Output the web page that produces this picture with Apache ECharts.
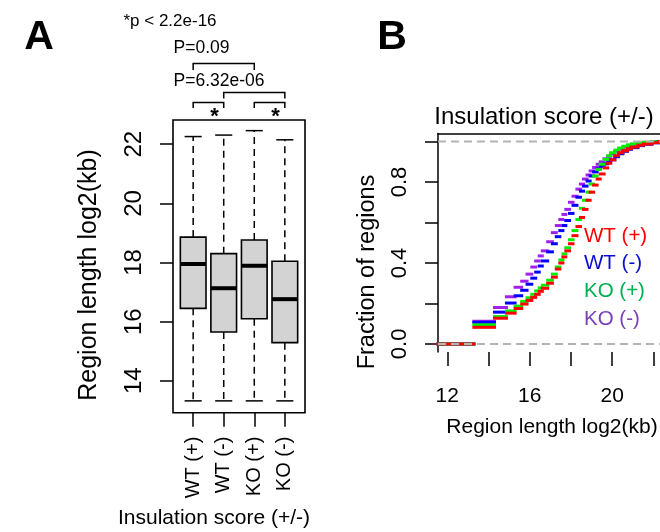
<!DOCTYPE html>
<html><head><meta charset="utf-8">
<script src="https://cdn.jsdelivr.net/npm/echarts@6/dist/echarts.min.js"></script>
<style>html,body{margin:0;padding:0;background:#fff}#c{width:660px;height:532px}</style>
</head><body><div id="c"></div>
<script>
const FONT = "'Liberation Sans', Arial, Helvetica, sans-serif";

// ---- Panel A: boxplot data (log2 kb) ----
const categories = ['WT (+)', 'WT (-)', 'KO (+)', 'KO (-)'];
const whiskerLow  = [13.32, 13.32, 13.32, 13.32];
const q1          = [16.45, 15.65, 16.10, 15.29];
const median      = [17.95, 17.13, 17.89, 16.76];
const q3          = [18.86, 18.30, 18.76, 18.04];
const whiskerHigh = [22.26, 22.31, 22.46, 22.15];
const yTicksA = [14, 16, 18, 20, 22];

// ---- Panel B: ECDF steps ----
const stepX = [13.29, 14.29, 14.87, 15.29, 15.61, 15.87, 16.10, 16.29, 16.46, 16.61,
  16.87, 17.10, 17.29, 17.46, 17.61, 17.75, 17.93, 18.10, 18.29, 18.46,
  18.61, 18.78, 18.93, 19.10, 19.27, 19.42, 19.61, 19.78, 19.93, 20.13,
  20.31, 20.52, 20.74, 20.93, 21.25, 21.52, 21.93, 22.25];
const ecdfWTplus = [0.082, 0.127, 0.152, 0.175, 0.197, 0.215, 0.230, 0.245, 0.260, 0.275,
  0.300, 0.330, 0.370, 0.400, 0.430, 0.460, 0.495, 0.535, 0.580, 0.625,
  0.665, 0.710, 0.750, 0.785, 0.815, 0.840, 0.870, 0.893, 0.910, 0.930,
  0.945, 0.955, 0.965, 0.973, 0.982, 0.988, 0.995, 1.000];
const ecdfWTminus = [0.107, 0.157, 0.202, 0.238, 0.265, 0.295, 0.325, 0.355, 0.385, 0.410,
  0.455, 0.495, 0.530, 0.560, 0.585, 0.610, 0.645, 0.685, 0.725, 0.755,
  0.780, 0.805, 0.830, 0.850, 0.865, 0.878, 0.890, 0.900, 0.910, 0.925,
  0.940, 0.952, 0.962, 0.970, 0.980, 0.987, 0.994, 1.000];
const ecdfKOplus = [0.094, 0.135, 0.163, 0.187, 0.210, 0.228, 0.245, 0.262, 0.277, 0.290,
  0.315, 0.345, 0.380, 0.415, 0.445, 0.475, 0.515, 0.560, 0.615, 0.670,
  0.710, 0.750, 0.790, 0.830, 0.862, 0.888, 0.912, 0.930, 0.945, 0.958,
  0.968, 0.977, 0.984, 0.989, 0.994, 0.997, 0.999, 1.000];
const ecdfKOminus = [0.112, 0.180, 0.233, 0.280, 0.310, 0.345, 0.380, 0.410, 0.435, 0.460,
  0.505, 0.550, 0.585, 0.615, 0.640, 0.665, 0.700, 0.730, 0.765, 0.790,
  0.815, 0.835, 0.855, 0.872, 0.888, 0.900, 0.915, 0.927, 0.940, 0.953,
  0.963, 0.972, 0.980, 0.986, 0.992, 0.996, 0.999, 1.000];
const xTicksB = [12, 14, 16, 18, 20, 22];
const xLabelsB = [12, 16, 20];
const yTicksB = [0, 0.2, 0.4, 0.6, 0.8, 1];
const yLabelsB = [0, 0.4, 0.8];
const refLevels = [0, 1];

const seriesNames = ['WT (+)', 'WT (-)', 'KO (+)', 'KO (-)'];
const lineColors = ['#FF0000', '#0000FF', '#00EE00', '#A020F0'];
const textColors = ['#FF0000', '#0A0AD0', '#00B050', '#7B3FB5'];

const xMinB = 11.55, xMaxB = 22.32;

const chart = echarts.init(document.getElementById('c'));

const boxData = categories.map((c, i) => [i + 1, whiskerLow[i], q1[i], median[i], q3[i], whiskerHigh[i]]);

function boxRender(params, api) {
  const x = api.value(0);
  const lo = api.coord([x, api.value(1)]);
  const b1 = api.coord([x, api.value(2)]);
  const md = api.coord([x, api.value(3)]);
  const b3 = api.coord([x, api.value(4)]);
  const hi = api.coord([x, api.value(5)]);
  const hw = api.size([0.42, 0])[0];
  const cw = api.size([0.28, 0])[0];
  const cx = lo[0];
  const dash = { stroke: '#000', lineWidth: 1.5, lineDash: [7, 5] };
  const solid = { stroke: '#000', lineWidth: 1.5 };
  return { type: 'group', children: [
    { type: 'line', shape: { x1: cx, y1: b3[1], x2: cx, y2: hi[1] }, style: dash },
    { type: 'line', shape: { x1: cx, y1: b1[1], x2: cx, y2: lo[1] }, style: dash },
    { type: 'line', shape: { x1: cx - cw, y1: hi[1], x2: cx + cw, y2: hi[1] }, style: solid },
    { type: 'line', shape: { x1: cx - cw, y1: lo[1], x2: cx + cw, y2: lo[1] }, style: solid },
    { type: 'rect', shape: { x: cx - hw, y: b3[1], width: 2 * hw, height: b1[1] - b3[1] },
      style: { fill: '#D3D3D3', stroke: '#000', lineWidth: 1.6 } },
    { type: 'line', shape: { x1: cx - hw, y1: md[1], x2: cx + hw, y2: md[1] }, style: { stroke: '#000', lineWidth: 4 } }
  ]};
}

function ecdfSegments(F) {
  const segs = [[xMinB, stepX[0], 0]];
  for (let i = 0; i < stepX.length; i++) {
    segs.push([stepX[i], i + 1 < stepX.length ? stepX[i + 1] : xMaxB, F[i]]);
  }
  return segs;
}
function segRender(params, api) {
  const a = api.coord([api.value(0), api.value(2)]);
  const b = api.coord([api.value(1), api.value(2)]);
  return { type: 'line', shape: { x1: a[0], y1: a[1], x2: b[0], y2: b[1] },
    style: { stroke: api.visual('color'), lineWidth: 3, lineCap: 'square' } };
}
function refRender(params, api) {
  const a = api.coord([xMinB, api.value(0)]);
  const b = api.coord([xMaxB, api.value(0)]);
  return { type: 'line', shape: { x1: a[0], y1: a[1], x2: b[0], y2: b[1] },
    style: { stroke: '#B3B3B3', lineWidth: 2, lineDash: [8, 5] } };
}

const ecdfs = [ecdfWTplus, ecdfWTminus, ecdfKOplus, ecdfKOminus];
const drawOrder = [3, 1, 2, 0];
const ecdfSeries = drawOrder.map(k => ({
  name: seriesNames[k], type: 'custom', xAxisIndex: 1, yAxisIndex: 1,
  data: ecdfSegments(ecdfs[k]), encode: { x: [0, 1], y: 2 },
  itemStyle: { color: lineColors[k] }, renderItem: segRender, silent: true
}));

const tickStyle = { color: '#000', width: 1.5 };
const option = {
  animation: false,
  backgroundColor: '#fff',
  textStyle: { fontFamily: FONT },
  grid: [
    { left: 173, top: 120, width: 132, height: 292.7, show: true, borderColor: '#000', borderWidth: 1.6, backgroundColor: 'transparent' },
    { left: 438, top: 133.5, width: 222, height: 218.5 }
  ],
  xAxis: [
    { gridIndex: 0, type: 'value', min: 0.34, max: 4.66,
      axisLine: { show: false, onZero: false }, splitLine: { show: false },
      axisTick: { show: true, customValues: [1, 2, 3, 4], length: 14, lineStyle: tickStyle },
      axisLabel: { customValues: [1, 2, 3, 4], formatter: v => categories[Math.round(v) - 1],
        rotate: 90, margin: 24, fontSize: 20, color: '#000', fontFamily: FONT } },
    { gridIndex: 1, type: 'value', min: xMinB, max: xMaxB, position: 'bottom',
      axisLine: { show: false, onZero: false }, splitLine: { show: false },
      axisTick: { show: true, customValues: xTicksB, length: 14, lineStyle: tickStyle },
      axisLabel: { customValues: xLabelsB, margin: 34, fontSize: 21, color: '#000', fontFamily: FONT } },
    { gridIndex: 1, type: 'value', min: xMinB, max: xMaxB, position: 'top',
      axisLine: { show: true, onZero: false, lineStyle: tickStyle },
      axisTick: { show: false }, axisLabel: { show: false }, splitLine: { show: false } }
  ],
  yAxis: [
    { gridIndex: 0, type: 'value', min: 12.92, max: 22.82,
      axisLine: { show: false, onZero: false }, splitLine: { show: false },
      axisTick: { show: true, customValues: yTicksA, length: 13, lineStyle: tickStyle },
      axisLabel: { customValues: yTicksA, rotate: 90, margin: 27, fontSize: 24, color: '#000', fontFamily: FONT } },
    { gridIndex: 1, type: 'value', min: -0.04, max: 1.04,
      axisLine: { show: true, onZero: false, lineStyle: tickStyle }, splitLine: { show: false },
      axisTick: { show: true, customValues: yTicksB, length: 13, lineStyle: tickStyle },
      axisLabel: { customValues: yLabelsB, formatter: v => v.toFixed(1), rotate: 90, margin: 27,
        fontSize: 22, color: '#000', fontFamily: FONT } }
  ],
  series: [
    { type: 'custom', name: 'box', xAxisIndex: 0, yAxisIndex: 0, data: boxData,
      encode: { x: 0, y: [1, 2, 3, 4, 5] }, renderItem: boxRender, silent: true },
    ...ecdfSeries,
    { type: 'custom', name: 'ref', xAxisIndex: 1, yAxisIndex: 1, data: refLevels.map(v => [v]),
      encode: { y: 0 }, renderItem: refRender, silent: true, z: 5 }
  ]
};
chart.setOption(option);

// annotations positioned from the axis scale of panel A
const px = k => chart.convertToPixel({ xAxisIndex: 0 }, k);
function bracket(a, b, yTop, yBot) {
  return { type: 'polyline', shape: { points: [[px(a), yBot], [px(a), yTop], [px(b), yTop], [px(b), yBot]] },
    style: { stroke: '#000', lineWidth: 1.5, fill: null } };
}
function txt(x, y, s, size, opts) {
  return { type: 'text', x: x, y: y, style: Object.assign({ text: s, fontSize: size, fontFamily: FONT,
    fill: '#000', align: 'center', verticalAlign: 'middle' }, opts || {}) };
}
const graphics = [
  txt(39, 38, 'A', 41, { fontWeight: 'bold' }),
  txt(392, 38, 'B', 41, { fontWeight: 'bold' }),
  txt(170, 21, '*p < 2.2e-16', 17),
  txt(201.5, 48, 'P=0.09', 17.5),
  bracket(1, 3, 63.5, 70),
  txt(219, 81, 'P=6.32e-06', 17.5),
  bracket(2, 4, 92.5, 98.5),
  bracket(1, 2, 102.5, 108),
  bracket(3, 4, 102.5, 108),
  txt(px(1.5) + 6, 117, '*', 22, { fontWeight: 'bold' }),
  txt(px(3.5) + 6, 117, '*', 22, { fontWeight: 'bold' }),
  txt(214, 518, 'Insulation score (+/-)', 21),
  { type: 'text', x: 89, y: 275, rotation: Math.PI / 2,
    style: { text: 'Region length log2(kb)', fontSize: 25, fontFamily: FONT, fill: '#000', align: 'center', verticalAlign: 'middle' } },
  txt(544, 117, 'Insulation score (+/-)', 24),
  txt(552, 427, 'Region length log2(kb)', 21),
  { type: 'text', x: 368, y: 272, rotation: Math.PI / 2,
    style: { text: 'Fraction of regions', fontSize: 23.5, fontFamily: FONT, fill: '#000', align: 'center', verticalAlign: 'middle' } }
];
seriesNames.forEach((n, i) => {
  graphics.push(txt(584, 236 + i * 27.8, n, 20.5, { align: 'left', fill: textColors[i] }));
});
chart.setOption({ graphic: graphics });
</script>
</body></html>
